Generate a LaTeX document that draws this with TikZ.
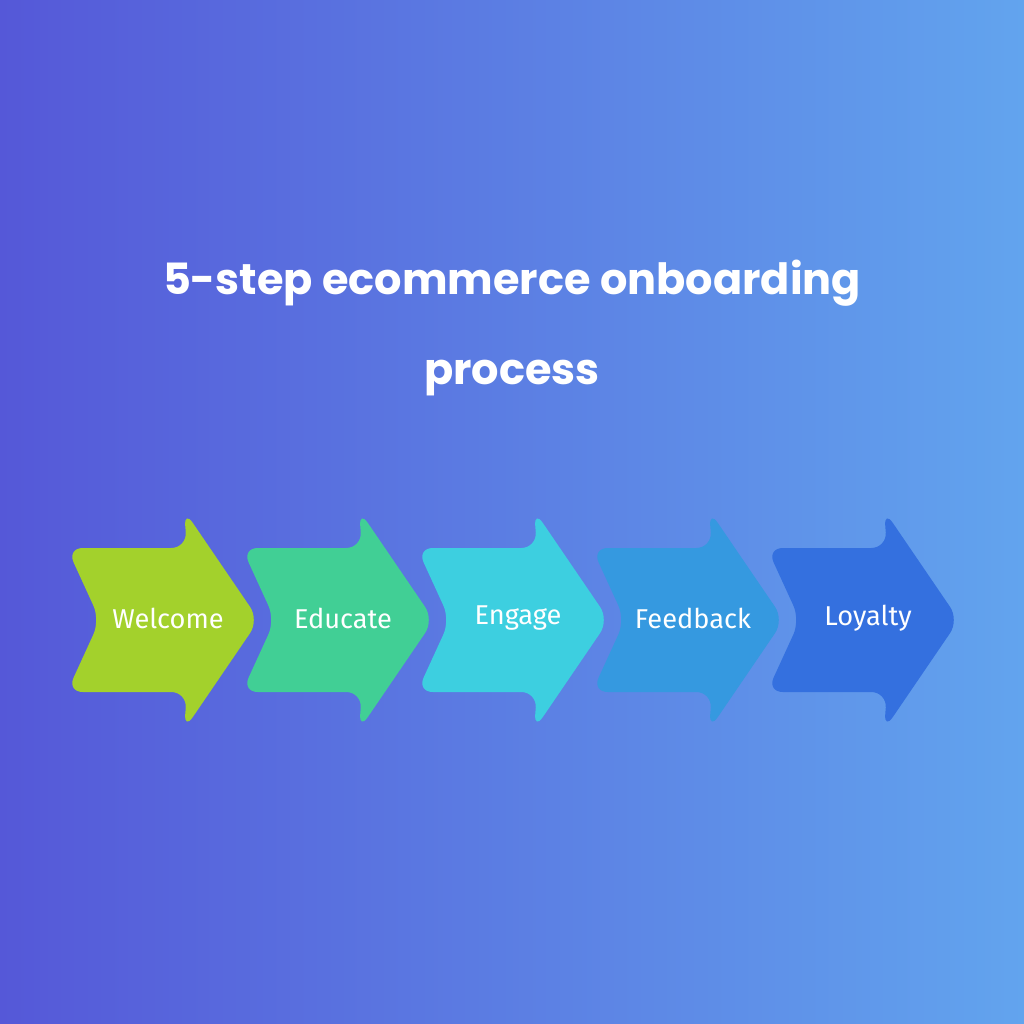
\documentclass[tikz,border=0pt]{standalone}
\usepackage{fontspec}
\setmainfont{Poppins}
\newfontfamily\lab{Fira Sans}
\begin{document}
\begin{tikzpicture}[x=0.02cm,y=-0.02cm,
  chev/.style={fill=#1,rounded corners=9pt},
  lbl/.style={text=white,font=\lab\fontsize{15.5}{20}\selectfont}]
\useasboundingbox (0,0) rectangle (1024,1024);
\definecolor{bgl}{HTML}{5558D8}\definecolor{bgr}{HTML}{62A4EE}
\shade[left color=bgl,right color=bgr] (0,0) rectangle (1024,1024);
\node[text=white,font=\fontsize{24.5}{51}\selectfont\bfseries,align=center] (title) at (512,328) {5-step ecommerce onboarding\\process};
\foreach \i/\c/\t in {0/A3D12C/Welcome,1/41CF95/Educate,2/3DCFE0/Engage,3/3599E0/Feedback,4/3470DF/Loyalty}{
  \definecolor{cc}{HTML}{\c}
  \pgfmathsetmacro{\ox}{\i*175}
  \begin{scope}[xshift=\ox*0.02cm]
  \fill[chev=cc] (67,548) -- (187,548) -- (184,510) -- (259,620) -- (184,730) -- (187,692) -- (67,692) -- (100,620) -- cycle;
  \node[lbl] (n\i) at (168,618) {\t};
  \end{scope}
}
\end{tikzpicture}
\end{document}
